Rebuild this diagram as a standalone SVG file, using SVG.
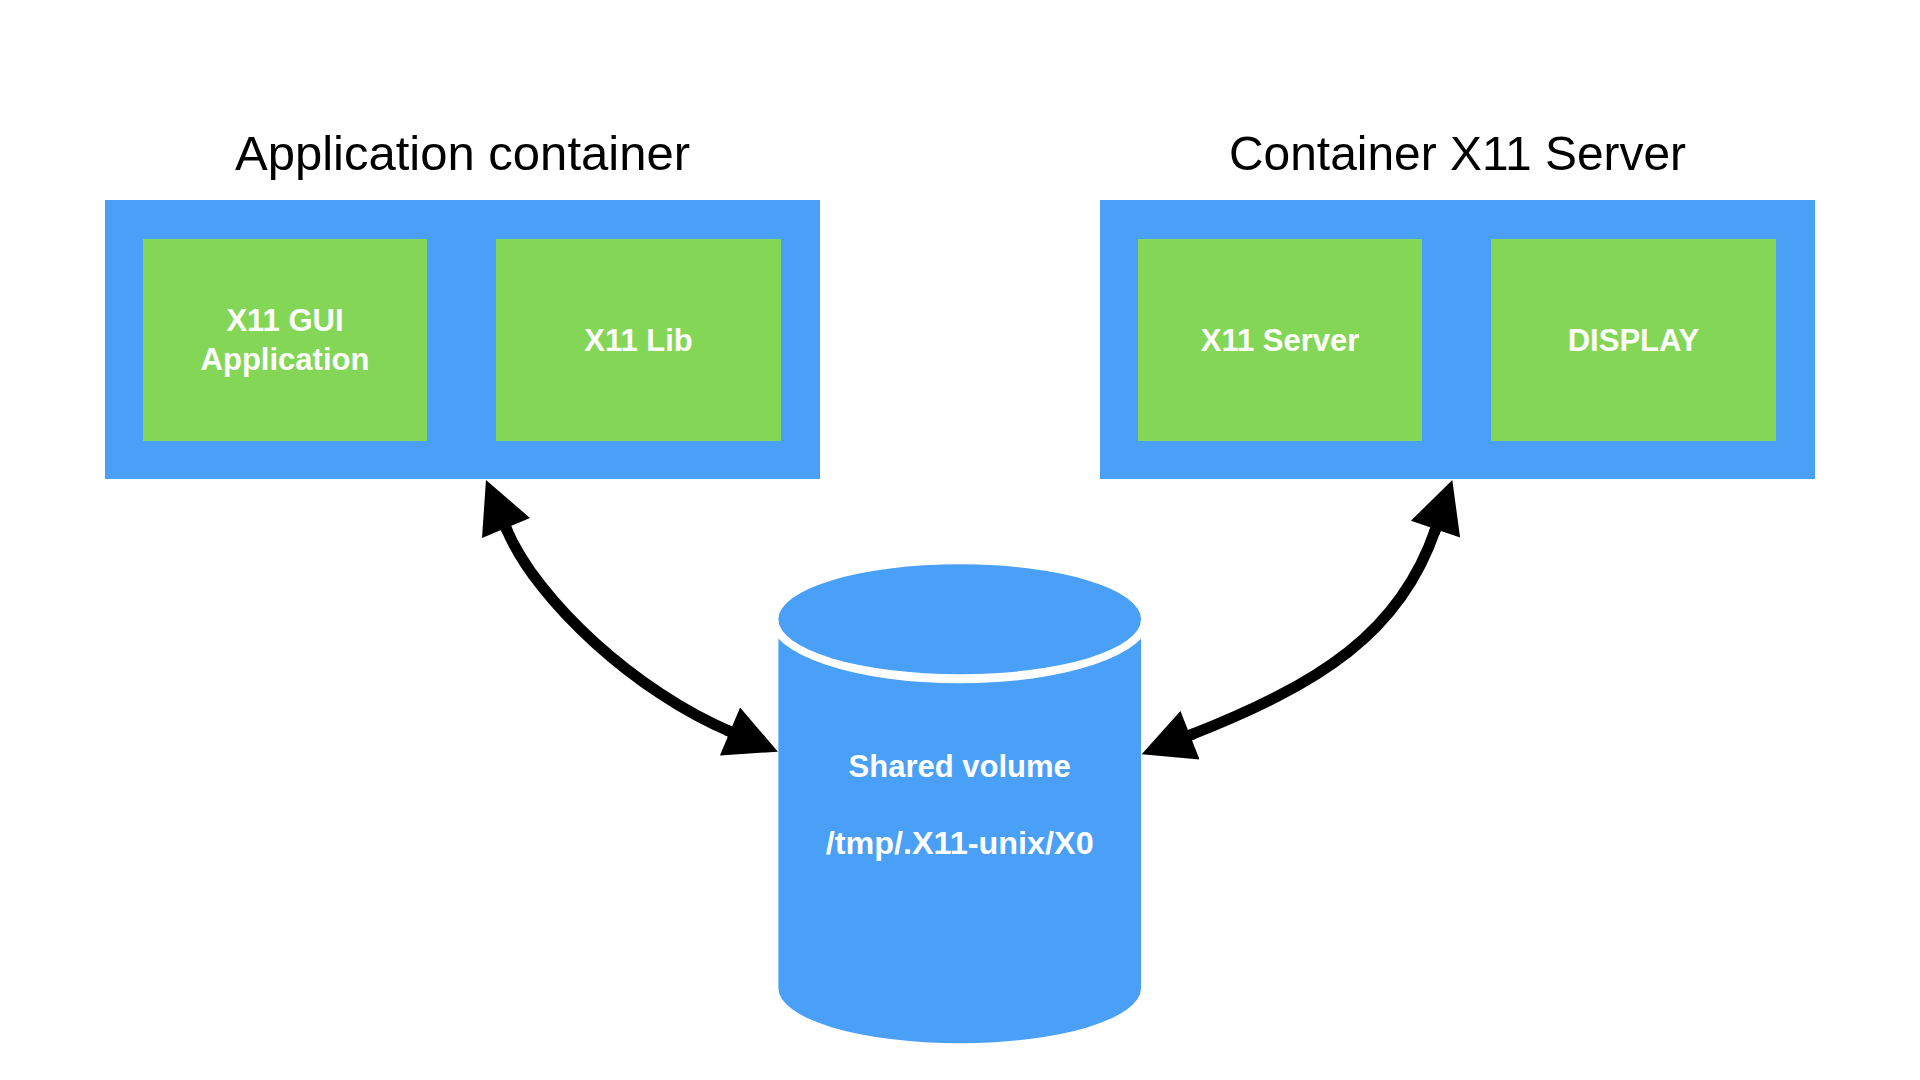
<svg xmlns="http://www.w3.org/2000/svg" width="1920" height="1080" viewBox="0 0 1920 1080">
  <style>
    .container { fill: #4A9FF6; }
    .comp { fill: #84D656; }
    .title { font-family: "Liberation Sans", Arial, sans-serif; font-size: 49px; fill: #000000; text-anchor: middle; }
    .label { font-family: "Liberation Sans", Arial, sans-serif; font-size: 31px; font-weight: bold; fill: #FFFFFF; text-anchor: middle; }
    .conn { fill: none; stroke: #000000; stroke-width: 11; }
  </style>
  <defs>
    <marker id="arrow" markerUnits="userSpaceOnUse" viewBox="-4 0 56 52" markerWidth="56" markerHeight="52" refX="0" refY="26" orient="auto-start-reverse">
      <path d="M0,0 L52,26 L0,52 Z M-4,20.5 L1,20.5 L1,31.5 L-4,31.5 Z" fill="#000000"/>
    </marker>
  </defs>
  <rect width="1920" height="1080" fill="#FFFFFF"/>

  <g id="app-container">
    <text class="title" x="462.5" y="170">Application container</text>
    <rect class="container" x="105" y="200" width="715" height="279"/>
  </g>
  <g id="x11-gui-application">
    <rect class="comp" x="143" y="239" width="284" height="202"/>
    <text class="label" x="285" y="331">X11 GUI</text>
    <text class="label" x="285" y="370">Application</text>
  </g>
  <g id="x11-lib">
    <rect class="comp" x="496" y="239" width="285" height="202"/>
    <text class="label" x="638.5" y="350.5">X11 Lib</text>
  </g>

  <g id="server-container">
    <text class="title" x="1457.5" y="170" textLength="457" lengthAdjust="spacingAndGlyphs">Container X11 Server</text>
    <rect class="container" x="1100" y="200" width="715" height="279"/>
  </g>
  <g id="x11-server">
    <rect class="comp" x="1138" y="239" width="284" height="202"/>
    <text class="label" x="1280" y="350.5">X11 Server</text>
  </g>
  <g id="display">
    <rect class="comp" x="1491" y="239" width="285" height="202"/>
    <text class="label" x="1633.5" y="350.5">DISPLAY</text>
  </g>

  <g id="shared-volume">
    <path class="container" d="M778.4,619.3 L778.4,988.3 A181.3,55 0 0 0 1141,988.3 L1141,619.3 Z"/>
    <ellipse cx="959.7" cy="619.3" rx="190.3" ry="64" fill="#FFFFFF"/>
    <ellipse class="container" cx="959.7" cy="619.3" rx="181.3" ry="55"/>
    <text class="label" x="959.7" y="776.7">Shared volume</text>
    <text class="label" x="959.7" y="854" textLength="268" lengthAdjust="spacingAndGlyphs">/tmp/.X11-unix/X0</text>
  </g>

  <g id="connectors">
    <path class="conn" marker-start="url(#arrow)" marker-end="url(#arrow)" d="M506,528 C536.8,601.8 637.8,692.7 730,731.5"/>
    <path class="conn" marker-start="url(#arrow)" marker-end="url(#arrow)" d="M1435.5,529.2 C1400,633.3 1320,683.8 1190,735.2"/>
  </g>
</svg>
